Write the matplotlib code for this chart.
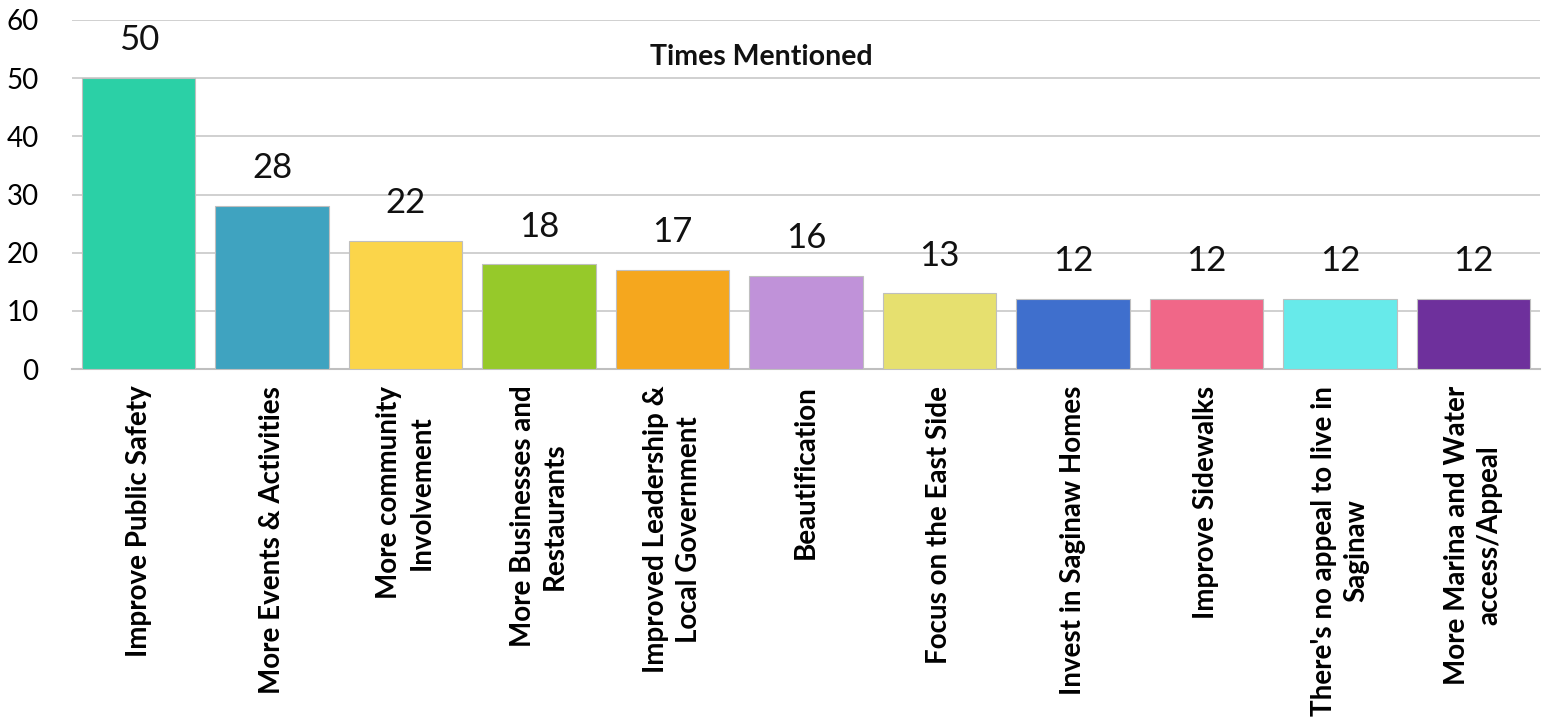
import matplotlib
matplotlib.use("Agg")
import matplotlib.pyplot as plt

categories = [
    "Improve Public Safety",
    "More Events & Activities",
    "More community\nInvolvement",
    "More Businesses and\nRestaurants",
    "Improved Leadership &\nLocal Government",
    "Beautification",
    "Focus on the East Side",
    "Invest in Saginaw Homes",
    "Improve Sidewalks",
    "There's no appeal to live in\nSaginaw",
    "More Marina and Water\naccess/Appeal",
]
values = [50, 28, 22, 18, 17, 16, 13, 12, 12, 12, 12]
colors = ["#2BD0A6", "#3FA3C0", "#FBD54A", "#96C92A", "#F5A71E", "#C092D9",
          "#E6E06F", "#3F6FCD", "#F06788", "#67EAEA", "#6E309C"]
yticks = [0, 10, 20, 30, 40, 50, 60]

plt.rcParams['font.family'] = ['Lato', 'DejaVu Sans']

fig = plt.figure(figsize=(15.43, 7.24), dpi=100)
ax = fig.add_axes([72/1543, 1-369/724, 1468/1543, 349/724])

x = list(range(len(categories)))
bars = ax.bar(x, values, width=0.85, color=colors, edgecolor="#bfbfbf", linewidth=0.8, zorder=3)

for xi, v in zip(x, values):
    ax.annotate(str(v), (xi, v), xytext=(0, 20), textcoords="offset points",
                ha="center", va="baseline", fontsize=25, color="#111111")

ax.set_xlim(-0.5, len(categories) - 0.5)
ax.set_ylim(0, 60)
ax.set_yticks(yticks)
ax.set_yticklabels([str(t) for t in yticks], fontsize=20)
ax.yaxis.grid(True, color="#c8c8c8", linewidth=1.2, zorder=0)
ax.set_axisbelow(True)
for s in ["top", "right", "left"]:
    ax.spines[s].set_visible(False)
ax.spines["bottom"].set_color("#bfbfbf")
ax.spines["bottom"].set_linewidth(1.5)
ax.tick_params(axis="y", length=0, pad=24)
ax.tick_params(axis="x", length=0, pad=12)
ax.set_xticks(x)
ax.set_xticklabels(categories, rotation=90, fontsize=20, fontweight="bold",
                   ha="center", va="top", multialignment="center", linespacing=1.3)

fig.text(761/1543, 1-57/724, "Times Mentioned", ha="center", va="center",
         fontsize=20.5, fontweight="bold", color="#111111")

fig.savefig("out.png", dpi=100, facecolor="white")
